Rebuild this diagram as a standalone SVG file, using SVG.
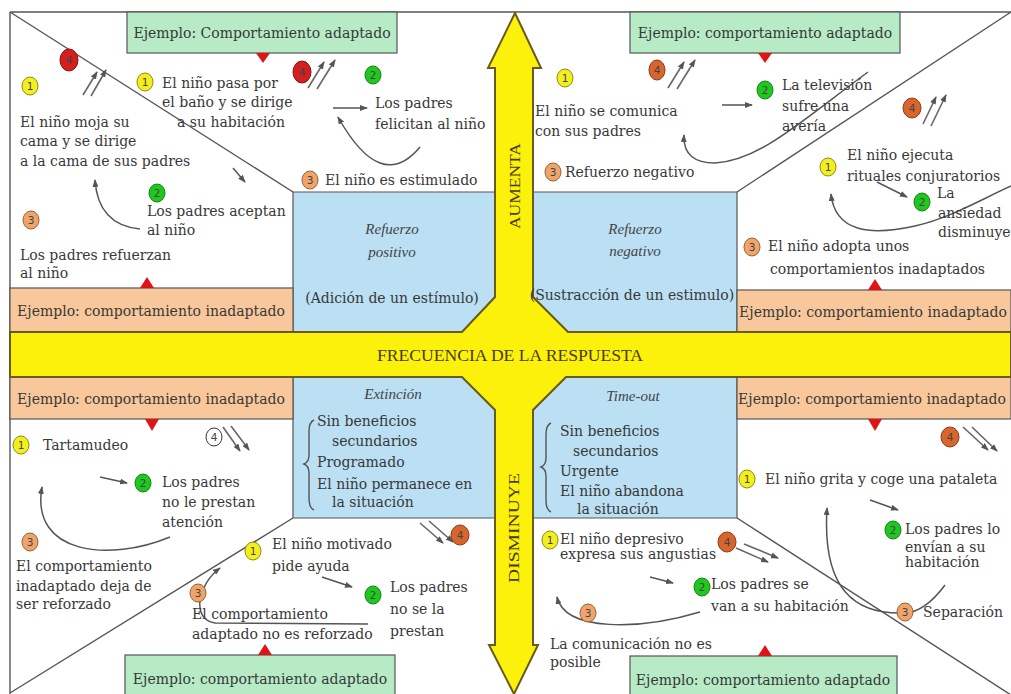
<svg xmlns="http://www.w3.org/2000/svg" width="1011" height="694" viewBox="0 0 1011 694">
<defs>
<style>
.t{font-family:"DejaVu Serif","Liberation Serif",serif;font-size:14px;fill:#383838}
.it{font-family:"Liberation Serif","DejaVu Serif",serif;font-style:italic;font-size:15px;fill:#444;text-anchor:middle}
.c{text-anchor:middle}
.n{font-family:"DejaVu Sans",sans-serif;font-size:10.5px;text-anchor:middle;fill:#444}
.ln{stroke:#555;stroke-width:1.4;fill:none}
.cv{stroke:#555;stroke-width:1.5;fill:none;marker-end:url(#ah)}
.sa{stroke:#666;stroke-width:1.6;fill:none;marker-end:url(#ah)}
.bg{fill:#b6ebc6;stroke:#555;stroke-width:1.2}
.bo{fill:#f8c89c;stroke:#555;stroke-width:1.2}
.bb{fill:#bbdff3;stroke:#555;stroke-width:1.2}
.tri{fill:#e01414}
.y{fill:#f3ef1c;stroke:#8d8a18;rx:8px;ry:9px}
.g{fill:#1ec81e;stroke:#168016;rx:8px;ry:9px}
.o{fill:#eea46a;stroke:#9a6030;rx:8px;ry:9px}
.r{fill:#d21f1f;stroke:#901010}
.rr{fill:#d8642e;stroke:#8a3a18}
.w{fill:#fff;stroke:#333;rx:8px;ry:9px}
.big{font-family:"Liberation Serif",serif;fill:#4a3a10}
</style>
<marker id="ah" markerWidth="8" markerHeight="6" refX="7" refY="3" orient="auto" markerUnits="userSpaceOnUse">
<path d="M0,0 L8,3 L0,6 z" fill="#555"/>
</marker>
</defs>
<rect x="0" y="0" width="1011" height="694" fill="#fff"/>

<g id="frame">
<line class="ln" x1="10" y1="12" x2="1011" y2="12"/>
<line class="ln" x1="10" y1="12" x2="10" y2="694"/>
<line class="ln" x1="10" y1="12" x2="293" y2="192"/>
<line class="ln" x1="1011" y1="12" x2="737" y2="192"/>
<line class="ln" x1="293" y1="518" x2="10" y2="693"/>
<line class="ln" x1="737" y1="518" x2="1011" y2="695"/>
</g>

<g id="blue-boxes">
<polygon class="bb" points="293,192 495,192 495,297 462,332 293,332"/>
<polygon class="bb" points="533,192 737,192 737,332 568,332 533,297"/>
<polygon class="bb" points="293,377 462,377 495,410 495,518 293,518"/>
<polygon class="bb" points="566,377 737,377 737,518 533,518 533,410"/>
</g>

<g id="example-boxes">
<g id="ex-tl"><rect class="bg" x="127" y="12" width="270" height="41"/><text class="t c" x="262" y="38">Ejemplo: Comportamiento adaptado</text><polygon class="tri" points="256,53 270,53 263,63"/></g>
<g id="ex-tr"><rect class="bg" x="630" y="12" width="270" height="41"/><text class="t c" x="765" y="38">Ejemplo: comportamiento adaptado</text><polygon class="tri" points="758,53 772,53 765,63"/></g>
<g id="ex-tl-bad"><rect class="bo" x="10" y="288" width="283" height="44"/><text class="t c" x="151" y="316">Ejemplo: comportamiento inadaptado</text><polygon class="tri" points="140,288 154,288 147,277"/></g>
<g id="ex-tr-bad"><rect class="bo" x="737" y="290" width="274" height="42"/><text class="t c" x="873" y="317">Ejemplo: comportamiento inadaptado</text><polygon class="tri" points="868,290 882,290 875,279"/></g>
<g id="ex-bl-bad"><rect class="bo" x="10" y="377" width="283" height="42"/><text class="t c" x="151" y="404">Ejemplo: comportamiento inadaptado</text><polygon class="tri" points="145,419 159,419 152,431"/></g>
<g id="ex-br-bad"><rect class="bo" x="737" y="377" width="274" height="42"/><text class="t c" x="872" y="404">Ejemplo: comportamiento inadaptado</text><polygon class="tri" points="868,419 882,419 875,431"/></g>
<g id="ex-bl"><rect class="bg" x="125" y="655" width="270" height="45"/><text class="t c" x="260" y="684">Ejemplo: comportamiento adaptado</text><polygon class="tri" points="258,655 272,655 265,644"/></g>
<g id="ex-br"><rect class="bg" x="630" y="656" width="267" height="45"/><text class="t c" x="763" y="685">Ejemplo: comportamiento adaptado</text><polygon class="tri" points="758,656 772,656 765,645"/></g>
</g>

<g id="axes">
<polygon points="515,13 541,68 533,68 533,297 568,332 1011,332 1011,377 566,377 533,410 533,645 538,645 514,694 489,645 495,645 495,410 462,377 10,377 10,332 462,332 495,297 495,68 488,68" fill="#fbf10a" stroke="#6b5b1b" stroke-width="2" stroke-linejoin="miter"/>
<text class="big" x="510" y="361" font-size="17" text-anchor="middle" textLength="266" lengthAdjust="spacingAndGlyphs">FRECUENCIA DE LA RESPUESTA</text>
<text class="big" transform="translate(520,186) rotate(-90)" x="0" y="0" font-size="15" text-anchor="middle" textLength="86" lengthAdjust="spacingAndGlyphs">AUMENTA</text>
<text class="big" transform="translate(519,528) rotate(-90)" x="0" y="0" font-size="15" text-anchor="middle" textLength="110" lengthAdjust="spacingAndGlyphs">DISMINUYE</text>
</g>

<g id="labels-blue">
<g id="refuerzo-positivo"><text class="it" x="392" y="234">Refuerzo</text><text class="it" x="392" y="257">positivo</text><text class="t c" x="392" y="303">(Adición de un estímulo)</text></g>
<g id="refuerzo-negativo"><text class="it" x="635" y="234">Refuerzo</text><text class="it" x="635" y="256">negativo</text><text class="t c" x="632" y="300">(Sustracción de un estimulo)</text></g>
<g id="extincion"><text class="it" x="393" y="399">Extinción</text>
<path class="ln" d="M314,420 Q309,422 309,432 L309,455 Q309,462 304,464 Q309,466 309,473 L309,498 Q309,508 314,510" stroke-width="1.2"/>
<text class="t" x="317" y="426">Sin beneficios</text><text class="t" x="332" y="446">secundarios</text><text class="t" x="317" y="467">Programado</text><text class="t" x="317" y="489">El niño permanece en</text><text class="t" x="332" y="507">la situación</text></g>
<g id="timeout"><text class="it" x="633" y="401">Time-out</text>
<path class="ln" d="M551,423 Q546,425 546,435 L546,458 Q546,465 541,467 Q546,469 546,476 L546,500 Q546,510 551,512" stroke-width="1.2"/>
<text class="t" x="560" y="436">Sin beneficios</text><text class="t" x="573" y="456">secundarios</text><text class="t" x="560" y="476">Urgente</text><text class="t" x="560" y="496">El niño abandona</text><text class="t" x="577" y="514">la situación</text></g>
</g>

<g id="connectors">
<line class="sa" x1="83" y1="95" x2="97" y2="72"/><line class="sa" x1="91" y1="96" x2="106" y2="70"/>
<line class="sa" x1="308" y1="88" x2="324" y2="62"/><line class="sa" x1="317" y1="89" x2="335" y2="60"/>
<line class="cv" x1="333" y1="108" x2="367" y2="108"/>
<path class="cv" d="M420,147 Q381,194 338,117"/>
<line class="cv" x1="233" y1="168" x2="245" y2="182"/>
<path class="cv" d="M140,229 Q98,225 95,180"/>
<line class="sa" x1="668" y1="88" x2="684" y2="62"/><line class="sa" x1="677" y1="89" x2="695" y2="60"/>
<line class="cv" x1="722" y1="105" x2="752" y2="105"/>
<path class="cv" d="M868,72 C800,122 760,160 715,163 C695,163 683,155 684,135"/>
<line class="sa" x1="923" y1="124" x2="936" y2="97"/><line class="sa" x1="931" y1="126" x2="946" y2="95"/>
<line class="cv" x1="877" y1="182" x2="907" y2="197"/>
<path class="cv" d="M1011,186 C980,200 950,218 915,226 C870,236 835,232 831,194"/>
<line class="sa" x1="223" y1="427" x2="240" y2="451"/><line class="sa" x1="231" y1="426" x2="249" y2="450"/>
<line class="cv" x1="100" y1="477" x2="127" y2="483"/>
<path class="cv" d="M170,537 C110,562 30,555 42,487"/>
<line class="sa" x1="420" y1="523" x2="443" y2="543"/><line class="sa" x1="429" y1="521" x2="453" y2="542"/>
<line class="cv" x1="322" y1="577" x2="352" y2="587"/>
<path class="cv" d="M368,624 L215,623 Q198,620 200,600 Q204,580 220,568"/>
<line class="sa" x1="963" y1="427" x2="988" y2="450"/><line class="sa" x1="972" y1="427" x2="997" y2="451"/>
<line class="cv" x1="870" y1="500" x2="898" y2="510"/>
<path class="cv" d="M945,585 Q925,612 905,613 C855,615 822,590 827,508"/>
<line class="sa" x1="736" y1="548" x2="768" y2="562"/><line class="sa" x1="744" y1="544" x2="778" y2="558"/>
<line class="cv" x1="650" y1="577" x2="673" y2="583"/>
<path class="cv" d="M700,612 C640,630 565,632 557,597"/>
</g>

<g id="tl-inadapt">
<g><ellipse class="y" cx="30" cy="86" rx="8" ry="9"/><text class="n" x="30" y="90">1</text></g>
<g><ellipse class="r" cx="69" cy="60" rx="9" ry="11"/><text class="n" x="69" y="64" fill="#8a1010">4</text></g>
<text class="t" x="20" y="127">El niño moja su</text><text class="t" x="20" y="146">cama y se dirige</text><text class="t" x="20" y="166">a la cama de sus padres</text>
<g><ellipse class="g" cx="157" cy="193" rx="8" ry="9"/><text class="n" x="157" y="197">2</text></g>
<text class="t" x="147" y="216">Los padres aceptan</text><text class="t" x="147" y="235">al niño</text>
<g><ellipse class="o" cx="31" cy="220" rx="8" ry="9"/><text class="n" x="31" y="224">3</text></g>
<text class="t" x="20" y="260">Los padres refuerzan</text><text class="t" x="20" y="278">al niño</text>
</g>

<g id="tl-adapt">
<g><ellipse class="y" cx="145" cy="82" rx="8" ry="9"/><text class="n" x="145" y="86">1</text></g>
<text class="t" x="162" y="88">El niño pasa por</text><text class="t" x="162" y="107">el baño y se dirige</text><text class="t" x="177" y="127">a su habitación</text>
<g><ellipse class="r" cx="302" cy="72" rx="9" ry="11"/><text class="n" x="302" y="76" fill="#8a1010">4</text></g>
<g><ellipse class="g" cx="373" cy="75" rx="8" ry="9"/><text class="n" x="373" y="79">2</text></g>
<text class="t" x="375" y="108">Los padres</text><text class="t" x="375" y="129">felicitan al niño</text>
<g><ellipse class="o" cx="310" cy="180" rx="8" ry="9"/><text class="n" x="310" y="184">3</text></g>
<text class="t" x="325" y="185">El niño es estimulado</text>
</g>

<g id="tr-adapt">
<g><ellipse class="y" cx="565" cy="78" rx="8" ry="9"/><text class="n" x="565" y="82">1</text></g>
<text class="t" x="535" y="116">El niño se comunica</text><text class="t" x="535" y="136">con sus padres</text>
<g><ellipse class="rr" cx="657" cy="70" rx="8" ry="10"/><text class="n" x="657" y="74">4</text></g>
<g><ellipse class="g" cx="765" cy="90" rx="8" ry="9"/><text class="n" x="765" y="94">2</text></g>
<text class="t" x="782" y="90">La televisión</text><text class="t" x="782" y="111">sufre una</text><text class="t" x="782" y="131">avería</text>
<g><ellipse class="o" cx="553" cy="172" rx="8" ry="9"/><text class="n" x="553" y="176">3</text></g>
<text class="t" x="565" y="177">Refuerzo negativo</text>
</g>

<g id="tr-inadapt">
<g><ellipse class="rr" cx="912" cy="108" rx="9" ry="10"/><text class="n" x="912" y="112">4</text></g>
<g><ellipse class="y" cx="828" cy="167" rx="8" ry="9"/><text class="n" x="828" y="171">1</text></g>
<text class="t" x="847" y="160">El niño ejecuta</text><text class="t" x="847" y="181">rituales conjuratorios</text>
<g><ellipse class="g" cx="922" cy="202" rx="8" ry="9"/><text class="n" x="922" y="206">2</text></g>
<text class="t" x="937" y="198">La</text><text class="t" x="938" y="218">ansiedad</text><text class="t" x="938" y="237">disminuye</text>
<g><ellipse class="o" cx="752" cy="247" rx="8" ry="9"/><text class="n" x="752" y="251">3</text></g>
<text class="t" x="768" y="251">El niño adopta unos</text><text class="t" x="770" y="274">comportamientos inadaptados</text>
</g>

<g id="bl-inadapt">
<g><ellipse class="w" cx="214" cy="437" rx="8" ry="9"/><text class="n" x="214" y="441">4</text></g>
<g><ellipse class="y" cx="21" cy="445" rx="8" ry="9"/><text class="n" x="21" y="449">1</text></g>
<text class="t" x="43" y="450">Tartamudeo</text>
<g><ellipse class="g" cx="143" cy="483" rx="8" ry="9"/><text class="n" x="143" y="487">2</text></g>
<text class="t" x="162" y="487">Los padres</text><text class="t" x="162" y="507">no le prestan</text><text class="t" x="162" y="527">atención</text>
<g><ellipse class="o" cx="30" cy="542" rx="8" ry="9"/><text class="n" x="30" y="546">3</text></g>
<text class="t" x="16" y="571">El comportamiento</text><text class="t" x="16" y="591">inadaptado deja de</text><text class="t" x="16" y="609">ser reforzado</text>
</g>

<g id="bl-adapt">
<g><ellipse class="rr" cx="460" cy="535" rx="9" ry="10"/><text class="n" x="460" y="539">4</text></g>
<g><ellipse class="y" cx="253" cy="551" rx="8" ry="9"/><text class="n" x="253" y="555">1</text></g>
<text class="t" x="272" y="549">El niño motivado</text><text class="t" x="272" y="571">pide ayuda</text>
<g><ellipse class="g" cx="373" cy="595" rx="8" ry="9"/><text class="n" x="373" y="599">2</text></g>
<text class="t" x="390" y="592">Los padres</text><text class="t" x="390" y="614">no se la</text><text class="t" x="390" y="636">prestan</text>
<g><ellipse class="o" cx="198" cy="593" rx="8" ry="9"/><text class="n" x="198" y="597">3</text></g>
<text class="t" x="192" y="619">El comportamiento</text><text class="t" x="192" y="639">adaptado no es reforzado</text>
</g>

<g id="br-inadapt">
<g><ellipse class="rr" cx="950" cy="437" rx="9" ry="10"/><text class="n" x="950" y="441">4</text></g>
<g><ellipse class="y" cx="747" cy="479" rx="8" ry="9"/><text class="n" x="747" y="483">1</text></g>
<text class="t" x="765" y="484">El niño grita y coge una pataleta</text>
<g><ellipse class="g" cx="893" cy="530" rx="8" ry="9"/><text class="n" x="893" y="534">2</text></g>
<text class="t" x="905" y="534">Los padres lo</text><text class="t" x="905" y="552">envían a su</text><text class="t" x="905" y="567">habitación</text>
<g><ellipse class="o" cx="905" cy="612" rx="8" ry="9"/><text class="n" x="905" y="616">3</text></g>
<text class="t" x="923" y="617">Separación</text>
</g>

<g id="br-adapt">
<g><ellipse class="y" cx="550" cy="540" rx="8" ry="9"/><text class="n" x="550" y="544">1</text></g>
<text class="t" x="560" y="544">El niño depresivo</text><text class="t" x="560" y="559">expresa sus angustias</text>
<g><ellipse class="rr" cx="727" cy="542" rx="9" ry="10"/><text class="n" x="727" y="546">4</text></g>
<g><ellipse class="g" cx="702" cy="587" rx="8" ry="9"/><text class="n" x="702" y="591">2</text></g>
<text class="t" x="711" y="589">Los padres se</text><text class="t" x="711" y="611">van a su habitación</text>
<g><ellipse class="o" cx="588" cy="613" rx="8" ry="9"/><text class="n" x="588" y="617">3</text></g>
<text class="t" x="550" y="649">La comunicación no es</text><text class="t" x="550" y="667">posible</text>
</g>
</svg>
